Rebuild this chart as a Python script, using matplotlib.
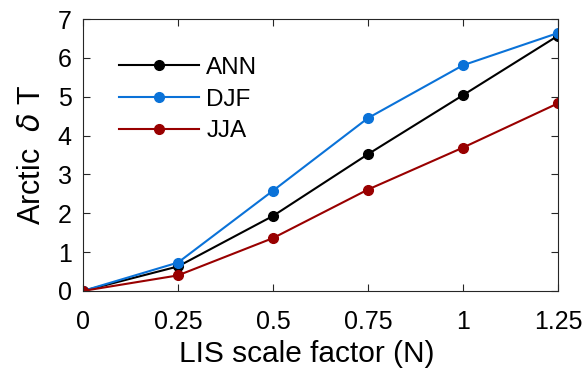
import matplotlib
matplotlib.use("Agg")
import matplotlib.pyplot as plt

plt.rcParams['font.family'] = ['Liberation Sans', 'DejaVu Sans']

x = [0, 0.25, 0.5, 0.75, 1.0, 1.25]
ann = [0, 0.63, 1.93, 3.52, 5.04, 6.57]
djf = [0, 0.73, 2.58, 4.45, 5.81, 6.64]
jja = [0, 0.40, 1.36, 2.61, 3.69, 4.83]
xticklabels = ['0', '0.25', '0.5', '0.75', '1', '1.25']

fig = plt.figure(figsize=(5.88, 3.73), dpi=100)
ax = fig.add_axes([0.141, 0.22, 0.808, 0.729])

ax.plot(x, ann, '-o', color='black', lw=1.5, ms=7, label='ANN')
ax.plot(x, djf, '-o', color='#0a72d8', lw=1.5, ms=7, label='DJF')
ax.plot(x, jja, '-o', color='#990000', lw=1.5, ms=7, label='JJA')

ax.set_xlim(0, 1.25)
ax.set_ylim(0, 7)
ax.set_xticks(x)
ax.set_xticklabels(xticklabels)
ax.set_yticks(range(8))
ax.tick_params(direction='in', top=True, right=True, labelsize=18, length=5, width=0.8,
               colors='#262626', labelcolor='black')
ax.tick_params(axis='x', pad=14)
ax.tick_params(axis='y', pad=8)
for s in ax.spines.values():
    s.set_color('#262626')
    s.set_linewidth(0.8)

ax.set_xlabel('LIS scale factor (N)', fontsize=21.5)
ax.xaxis.set_label_coords(0.472, -0.232)
ax.xaxis.label.set_va('center')
ax.set_ylabel('Arctic  $\\delta$ T', fontsize=22, labelpad=8)

ax.legend(loc='upper left', frameon=False, fontsize=17.5, handlelength=3.3,
          bbox_to_anchor=(0.055, 0.897), borderaxespad=0, labelspacing=0.4, handletextpad=0.3)

fig.savefig('out.png', dpi=100)
